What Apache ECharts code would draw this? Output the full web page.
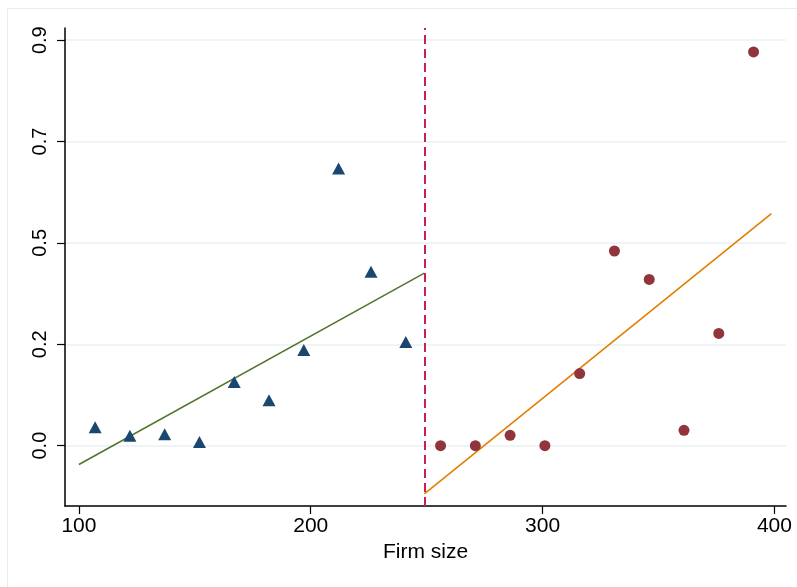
<!DOCTYPE html>
<html>
<head>
<meta charset="utf-8">
<script src="https://cdn.jsdelivr.net/npm/echarts@6/dist/echarts.min.js"></script>
<style>
  html, body { margin: 0; padding: 0; background: #fff; }
  #chart { width: 797px; height: 587px; }
</style>
</head>
<body>
<div id="chart"></div>
<script>
// values
const triX = [107, 122, 137, 152, 167, 182, 197, 212, 226, 241];
const triY = [0.041, 0.022, 0.025, 0.008, 0.141, 0.101, 0.212, 0.615, 0.386, 0.230];
const circX = [256, 271, 286, 301, 316, 331, 346, 361, 376, 391];
const circY = [0.000, 0.000, 0.023, 0.000, 0.160, 0.432, 0.369, 0.034, 0.249, 0.874];

// fitted lines, left and right of the cutoff
const cutoff = 249;
const leftFitX = [100, 249];
const leftFitY = [-0.042, 0.383];
const rightFitX = [249, 398.7];
const rightFitY = [-0.107, 0.515];

const xTicks = [100, 200, 300, 400];
const yTicks = [0, 0.225, 0.45, 0.675, 0.9];
const yTickLabels = ["0.0", "0.2", "0.5", "0.7", "0.9"];

const font = "Liberation Sans, Arial, Helvetica, sans-serif";

function pairs(xs, ys) {
  return xs.map((x, i) => [x, ys[i]]);
}

const chart = echarts.init(document.getElementById("chart"), null, { renderer: "canvas" });

chart.setOption({
  animation: false,
  backgroundColor: "#fff",
  graphic: [{
    type: "rect",
    shape: { x: 7.5, y: 8.5, width: 820, height: 620 },
    style: { fill: "none", stroke: "#e6edf0", lineWidth: 1 },
    silent: true,
    z: -10
  }],
  grid: { left: 65, right: 11, top: 28, bottom: 81 },
  xAxis: {
    type: "value",
    min: 94,
    max: 405,
    name: "Firm size",
    nameLocation: "middle",
    nameGap: 35,
    nameTextStyle: { color: "#000", fontSize: 21, fontFamily: font },
    axisLine: { show: true, onZero: false, lineStyle: { color: "#000", width: 1.5 } },
    axisTick: { show: true, length: 8, customValues: xTicks, lineStyle: { color: "#000", width: 1.2 } },
    axisLabel: { customValues: xTicks, margin: 10, color: "#000", fontSize: 21, fontFamily: font },
    splitLine: { show: false }
  },
  yAxis: {
    type: "value",
    min: -0.134,
    max: 0.927,
    axisLine: { show: true, onZero: false, lineStyle: { color: "#000", width: 1.5 } },
    axisTick: { show: true, length: 8, customValues: yTicks, lineStyle: { color: "#000", width: 1.2 } },
    axisLabel: {
      customValues: yTicks,
      rotate: 90,
      margin: 15,
      color: "#000",
      fontSize: 20,
      fontFamily: font,
      formatter: (v) => yTickLabels[yTicks.findIndex((t) => Math.abs(t - v) < 1e-6)]
    },
    splitLine: { show: true, lineStyle: { color: "#eaf2f3", width: 1.5 } }
  },
  series: [
    {
      type: "line",
      data: pairs(leftFitX, leftFitY),
      symbol: "none",
      lineStyle: { color: "#55752f", width: 1.6 },
      z: 3
    },
    {
      type: "line",
      data: pairs(rightFitX, rightFitY),
      symbol: "none",
      lineStyle: { color: "#e37e00", width: 1.6 },
      z: 3,
      markLine: {
        silent: true,
        symbol: "none",
        label: { show: false },
        lineStyle: { color: "#cc1f4f", width: 2, type: [9, 5] },
        data: [{ xAxis: cutoff }]
      }
    },
    {
      type: "scatter",
      data: pairs(triX, triY),
      symbol: "triangle",
      symbolSize: [13, 12],
      itemStyle: { color: "#1a476f", opacity: 1 },
      z: 4
    },
    {
      type: "scatter",
      data: pairs(circX, circY),
      symbol: "circle",
      symbolSize: 11,
      itemStyle: { color: "#90353b", opacity: 1 },
      z: 4
    }
  ]
});
</script>
</body>
</html>
